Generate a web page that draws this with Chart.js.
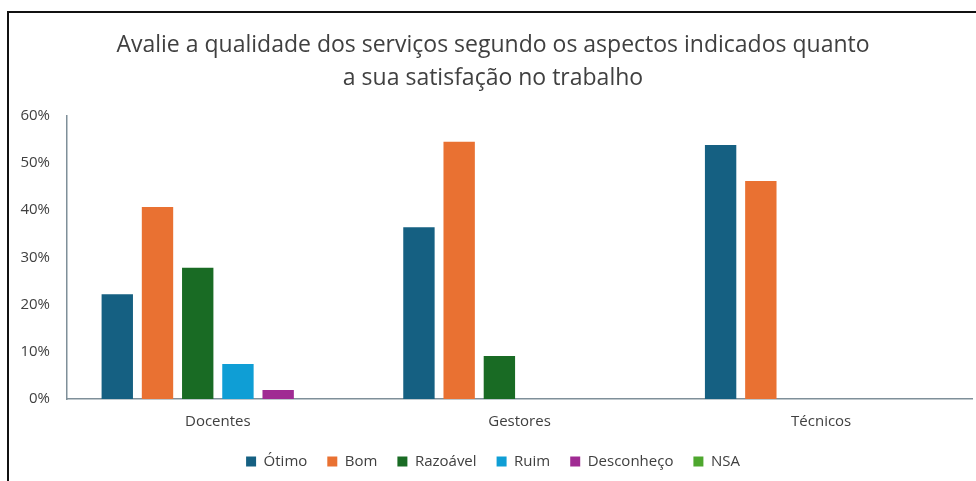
<!DOCTYPE html>
<html>
<head>
<meta charset="utf-8">
<script src="https://cdn.jsdelivr.net/npm/chart.js@4"></script>
<style>
  html, body { margin: 0; padding: 0; background: #fff; }
  #frame {
    position: absolute; left: 7px; top: 11px; right: 0; bottom: 0;
    border-top: 2px solid #111; border-left: 2px solid #111;
  }
  #wrap { position: absolute; left: 0; top: 0; width: 976px; height: 481px; }
</style>
</head>
<body>
<div id="frame"></div>
<div id="wrap"><canvas id="myChart"></canvas></div>
<script>
const categories = ['Docentes', 'Gestores', 'Técnicos'];
const seriesNames = ['Ótimo', 'Bom', 'Razoável', 'Ruim', 'Desconheço', 'NSA'];
const otimo = [22.2, 36.4, 53.8];
const bom = [40.7, 54.5, 46.2];
const razoavel = [27.8, 9.1, 0];
const ruim = [7.4, 0, 0];
const desconheco = [1.9, 0, 0];
const nsa = [0, 0, 0];
const yTicks = [0, 10, 20, 30, 40, 50, 60];

const colors = ['#156082', '#E97132', '#196B24', '#0F9ED5', '#A02B93', '#4EA72E'];
const values = [otimo, bom, razoavel, ruim, desconheco, nsa];

const fontFamily = '"Open Sans", sans-serif';
const axisColor = '#7f8f99';
const textColor = '#404040';

const ctx = document.getElementById('myChart').getContext('2d');
window.myChart = new Chart(ctx, {
    type: 'bar',
    data: {
        labels: categories,
        datasets: seriesNames.map((name, i) => ({
            label: name,
            data: values[i],
            backgroundColor: colors[i],
            borderWidth: 0,
            categoryPercentage: 0.8,
            barPercentage: 0.78
        }))
    },
    options: {
        responsive: true,
        maintainAspectRatio: false,
        animation: false,
        layout: { padding: { top: 10, left: 14, right: 4, bottom: 2 } },
        plugins: {
            title: {
                display: true,
                text: ['Avalie a qualidade dos serviços segundo os aspectos indicados quanto', 'a sua satisfação no trabalho'],
                color: textColor,
                font: { family: fontFamily, size: 23, weight: 'normal', lineHeight: 1.43 },
                padding: { top: 19, bottom: 21 }
            },
            legend: {
                position: 'bottom',
                labels: {
                    boxWidth: 10,
                    boxHeight: 10,
                    padding: 20,
                    color: textColor,
                    font: { family: fontFamily, size: 15 }
                }
            },
            tooltip: { enabled: false }
        },
        scales: {
            x: {
                grid: { display: false, drawTicks: false },
                border: { display: true, color: axisColor, width: 1.5 },
                ticks: { color: textColor, padding: 14, font: { family: fontFamily, size: 15 } },
                afterFit: scale => { scale.height = 35; }
            },
            y: {
                min: 0,
                max: 60,
                grid: { display: false, drawTicks: false },
                border: { display: true, color: axisColor, width: 1.5 },
                afterBuildTicks: scale => { scale.ticks = yTicks.map(v => ({ value: v })); },
                afterFit: scale => { scale.width = 53; },
                ticks: {
                    color: textColor,
                    padding: 17,
                    font: { family: fontFamily, size: 15 },
                    callback: v => v + '%'
                }
            }
        }
    }
});
</script>
</body>
</html>
